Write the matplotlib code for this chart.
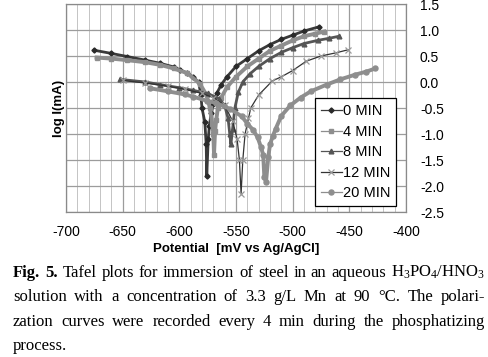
import matplotlib
matplotlib.use("Agg")
from matplotlib import pyplot as plt
from matplotlib.ticker import MultipleLocator, FormatStrFormatter

plt.rcParams['axes.unicode_minus'] = False
plt.rcParams['mathtext.fontset'] = 'custom'
plt.rcParams['mathtext.rm'] = 'Liberation Serif'
plt.rcParams['mathtext.it'] = 'Liberation Serif:italic'

# potential [mV vs Ag/AgCl] and log I (mA)
v_0 = [-675, -660, -646, -630, -617, -605, -599, -593, -588, -583, -581, -580,
       -577.5, -576.3, -575.8, -574.5, -573.5, -572, -570, -567, -563, -558,
       -550, -540, -530, -520, -510, -500, -490, -477]
i_0 = [0.61, 0.55, 0.49, 0.42, 0.36, 0.29, 0.23, 0.17, 0.1, 0.0, -0.25, -0.5,
       -0.77, -1.2, -1.8, -1.1, -0.85, -0.6, -0.42, -0.22, -0.05, 0.1,
       0.3, 0.45, 0.6, 0.72, 0.82, 0.9, 0.98, 1.06]

v_4 = [-673, -660, -646, -630, -617, -605, -593, -582, -576, -573, -571, -570,
       -569.4, -568.5, -567.5, -566, -563, -558, -550, -540, -530, -520, -510,
       -500, -490, -480, -472]
i_4 = [0.47, 0.45, 0.42, 0.38, 0.33, 0.26, 0.17, -0.03, -0.25, -0.5, -0.8, -1.0,
       -1.4, -0.95, -0.74, -0.5, -0.3, -0.1, 0.1, 0.3, 0.45, 0.6, 0.7,
       0.8, 0.88, 0.93, 0.97]

v_8 = [-652, -630, -617, -600, -588, -575, -565, -560, -557, -555.5, -554.5,
       -553, -551, -548, -544, -538, -530, -520, -510, -500, -490, -478, -468,
       -459]
i_8 = [0.05, 0.0, -0.05, -0.11, -0.16, -0.22, -0.32, -0.45, -0.7, -1.0, -1.2,
       -0.9, -0.5, -0.2, 0.0, 0.15, 0.3, 0.45, 0.57, 0.66, 0.74, 0.8, 0.84,
       0.88]

v_12 = [-650, -630, -610, -595, -580, -570, -560, -553, -549, -547, -545.5,
        -544, -542, -539, -537, -530, -518, -510, -500, -488, -475, -462, -451]
i_12 = [0.03, -0.02, -0.08, -0.14, -0.22, -0.3, -0.45, -0.75, -1.1, -1.5, -2.15,
        -1.5, -1.0, -0.7, -0.5, -0.25, 0.02, 0.1, 0.22, 0.4, 0.5, 0.56, 0.62]

v_20 = [-626, -610, -595, -588, -576, -568, -555, -545, -540, -535, -531, -528,
        -526, -525, -523.5, -521.5, -520, -517.5, -515, -510, -502, -493, -484,
        -470, -458, -445, -435, -427]
i_20 = [-0.12, -0.18, -0.24, -0.28, -0.36, -0.4, -0.52, -0.66, -0.8, -0.92,
        -1.06, -1.25, -1.4, -1.83, -1.92, -1.44, -1.2, -1.04, -0.9, -0.65,
        -0.45, -0.3, -0.18, -0.05, 0.05, 0.14, 0.2, 0.26]

labels = ['0 MIN', '4 MIN', '8 MIN', '12 MIN', '20 MIN']

caption = [
    [('Fig.', 'bold'), ('5.', 'bold'), ('Tafel', 'normal'), ('plots', 'normal'),
     ('for', 'normal'), ('immersion', 'normal'), ('of', 'normal'),
     ('steel', 'normal'), ('in', 'normal'), ('an', 'normal'),
     ('aqueous', 'normal'), ('H$_3$PO$_4$/HNO$_3$', 'normal')],
    [(w, 'normal') for w in
     'solution with a concentration of 3.3 g/L Mn at 90 °C. The polari-'.split()],
    [(w, 'normal') for w in
     'zation curves were recorded every 4 min during the phosphatizing'.split()],
    [('process.', 'normal')],
]

# #########################################################################
# figure
W, H = 488, 357
fig = plt.figure(figsize=(W / 100, H / 100), dpi=100)
ax = fig.add_axes([66 / W, 1 - 212 / H, 340 / W, 208 / H])

styles = [
    dict(color='#3a3a3a', marker='D', ms=2.6, lw=2.0, mec='#2a2a2a'),
    dict(color='#8e8e8e', marker='s', ms=3.4, lw=2.8, mec='#8e8e8e'),
    dict(color='#555555', marker='^', ms=3.4, lw=2.0, mec='#555555'),
    dict(color='#333333', marker='x', ms=4.5, lw=0.9, mec='#9a9a9a', mew=0.9),
    dict(color='#8e8e8e', marker='o', ms=3.6, lw=2.8, mec='#8e8e8e'),
]
series = [(v_0, i_0), (v_4, i_4), (v_8, i_8), (v_12, i_12), (v_20, i_20)]
for (v, i), lab, st in zip(series, labels, styles):
    ax.plot(v, i, label=lab, mfc=st['mec'], **st)

ax.set_xlim(-700, -400)
ax.set_ylim(-2.5, 1.5)
ax.xaxis.set_major_locator(MultipleLocator(50))
ax.xaxis.set_minor_locator(MultipleLocator(10))
ax.yaxis.set_major_locator(MultipleLocator(0.5))
ax.yaxis.set_major_formatter(FormatStrFormatter('%.1f'))
ax.grid(which='major', color='#9c9c9c', lw=0.9)
ax.grid(which='minor', axis='x', color='#c4c4c4', lw=0.7)
ax.set_axisbelow(True)
ax.yaxis.tick_right()
ax.yaxis.set_label_position('left')
ax.tick_params(which='both', length=0)
ax.tick_params(axis='x', pad=9, labelsize=10)
ax.tick_params(axis='y', pad=10, labelsize=10)
for lab in ax.get_xticklabels() + ax.get_yticklabels():
    lab.set_family('Liberation Sans')
for sp in ax.spines.values():
    sp.set_color('#8a8a8a')
    sp.set_linewidth(0.9)

ax.set_xlabel('Potential  [mV vs Ag/AgCl]', family='Liberation Sans',
              weight='bold', fontsize=9.5, labelpad=3)
ax.set_ylabel('log I(mA)', family='Liberation Sans', weight='bold',
              fontsize=9.5, labelpad=1)

leg = ax.legend(loc='lower right', bbox_to_anchor=(0.972, 0.028),
                fancybox=False, framealpha=1, edgecolor='black',
                prop={'family': 'Liberation Sans', 'size': 10.5},
                handlelength=1.4, handletextpad=0.1, labelspacing=0.45,
                borderpad=0.4, borderaxespad=0)
leg.get_frame().set_linewidth(0.9)
for h in leg.legend_handles:
    h.set_linewidth(0.9)

# #########################################################################
# caption, justified line by line
renderer = fig.canvas.get_renderer()
x0, x1 = 13, 485
baselines = [277, 301, 326, 350]
for n, (words, yb) in enumerate(zip(caption, baselines)):
    arts = [fig.text(0, 1 - yb / H, w, fontsize=12, weight=wt,
                     family='Liberation Serif', va='baseline')
            for w, wt in words]
    widths = [a.get_window_extent(renderer).width for a in arts]
    if n < len(caption) - 1 and len(arts) > 1:
        gap = (x1 - x0 - sum(widths)) / (len(arts) - 1)
    else:
        gap = 4
    x = x0
    for a, w in zip(arts, widths):
        a.set_x(x / W)
        x += w + gap

fig.savefig('out.png', dpi=100)
